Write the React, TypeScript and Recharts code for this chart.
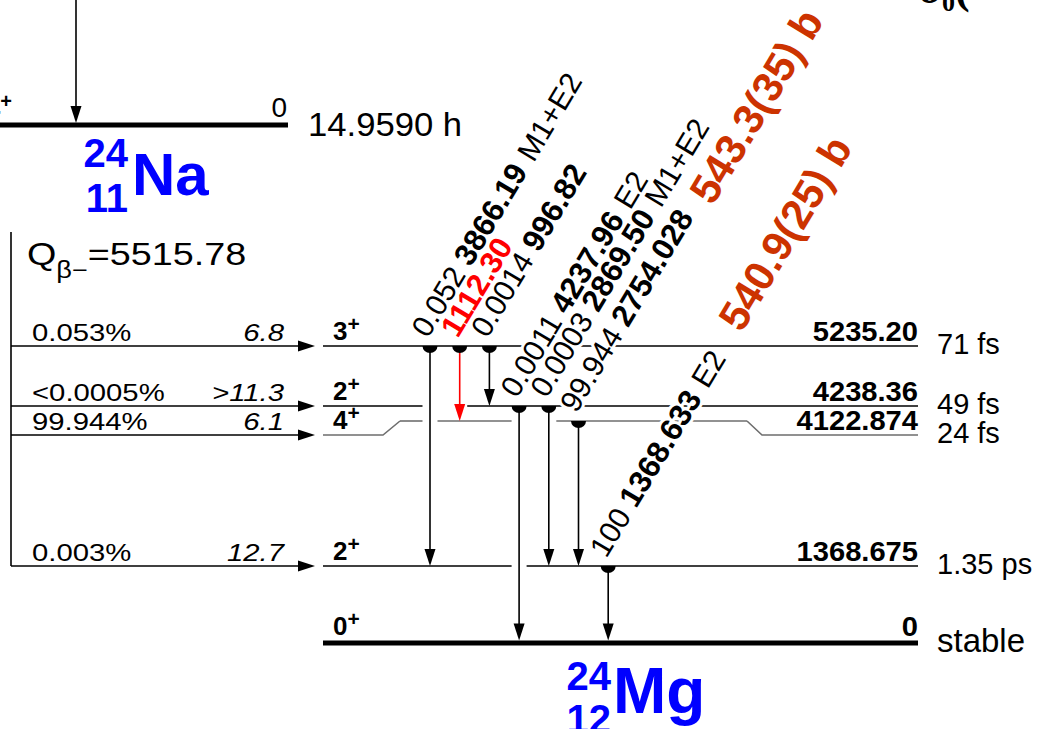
import React from "react";
import { ComposedChart, Line, Scatter, XAxis, YAxis } from "recharts";

const SANS = "'Liberation Sans', Arial, Helvetica, sans-serif";
const SERIF = "'Liberation Serif', 'DejaVu Serif', serif";
const BLUE = "#0000ff";
const RED = "#ff0000";
const RUST = "#cc3300";
const GREY = "#6e6e6e";

// 24Na parent
const parentNuclide = ["24", "11", "Na"];
const parentLevel = ["4", "0", "14.9590 h"]; // spin, energy, half-life
const qValue = "5515.78";

// 24Mg levels, top to bottom
const daughterNuclide = ["24", "12", "Mg"];
const levelEnergies = ["5235.20", "4238.36", "4122.874", "1368.675", "0"];
const levelSpins = ["3", "2", "4", "2", "0"];
const levelHalfLives = ["71 fs", "49 fs", "24 fs", "1.35 ps", "stable"];

// beta branches feeding levels 0..3
const betaIntensities = ["0.053%", "<0.0005%", "99.944%", "0.003%"];
const betaLogFt = ["6.8", ">11.3", "6.1", "12.7"];

// gamma transitions (one lane each, left to right)
const gammaEnergies = ["3866.19", "1112.30", "996.82", "4237.96", "2869.50", "2754.028", "1368.633"];
const gammaIntensities = ["0.052", "", "0.0014", "0.0011", "0.0003", "99.944", "100"];
const gammaMultipolarities = ["M1+E2", "", "", "E2", "M1+E2", "", "E2"];
const gammaFrom = [0, 0, 0, 1, 1, 2, 3];
const gammaTo = [3, 2, 1, 4, 3, 3, 4];
const gammaCrossSections = ["", "", "", "", "", "543.3(35) b", "540.9(25) b"];
const highlightedGamma = 1;

// ---- layout (scheme units) ----
const W = 1037;
const H = 729;
const LEVEL_ROW = [346, 406, 435, 566, 643];
const GROUND = 4;
const RAISED_LEVEL = 2; // 4+ drawn lifted in the middle to clear the 2+ level
const RAISED_ROW = 421;
const RAISED_LEFT = [383, 400];
const RAISED_RIGHT = [747, 762];
const LEVEL_X = [323, 918];
const LANE_X0 = 430;
const LANE_STEP = 29.7;
const GAP_HALF = 7.5;
const PARENT_ROW = 125;
const PARENT_X = [0, 288];
const PARENT_FEED_X = 76;
const FEED_X = [11, 315];
const FEED_TOP = 232;
const LABEL_ANGLE = -59;
const LABEL_OFFSET = [-2, -7];
const LABEL_SIZE = 30;
const XS_GAP = [0, 0, 0, 0, 0, 19, 29];
const XS_SHIFT = [0, 0, 0, 0, 0, 10, 0];

const laneX = (g: number) => LANE_X0 + g * LANE_STEP;
const attachRow = (lvl: number) => (lvl === RAISED_LEVEL ? RAISED_ROW : LEVEL_ROW[lvl]);

type Seg = { pts: { x: number; y: number }[]; color: string; width: number };
type Part = { t: string; size?: number; weight?: string; fill?: string; dx?: number; dy?: number; italic?: boolean };

const segs: Seg[] = [];
const markers: any[] = [];
const labels: any[] = [];

const seg = (x1: number, y1: number, x2: number, y2: number, color = "#000", width = 1.6) =>
  segs.push({ pts: [{ x: x1, y: y1 }, { x: x2, y: y2 }], color, width });

const txt = (x: number, y: number, parts: Part[] | string, opts: any = {}) =>
  labels.push({ x, y, parts: typeof parts === "string" ? [{ t: parts }] : parts, ...opts });

// parent level
seg(PARENT_X[0], PARENT_ROW, PARENT_X[1], PARENT_ROW, "#000", 5);
seg(PARENT_FEED_X, 0, PARENT_FEED_X, PARENT_ROW - 12);
markers.push({ x: PARENT_FEED_X, y: PARENT_ROW - 2, type: "down", color: "#000" });

// beta feeding
seg(FEED_X[0], FEED_TOP, FEED_X[0], LEVEL_ROW[3]);
betaIntensities.forEach((_, i) => {
  seg(FEED_X[0], LEVEL_ROW[i], FEED_X[1] - 10, LEVEL_ROW[i]);
  markers.push({ x: FEED_X[1], y: LEVEL_ROW[i], type: "right", color: "#000" });
});

// daughter levels, broken where a gamma passes through
levelEnergies.forEach((_, lvl) => {
  const row = attachRow(lvl);
  const color = lvl === RAISED_LEVEL ? GREY : "#000";
  const width = lvl === GROUND ? 5 : 1.6;
  const span = lvl === RAISED_LEVEL ? [RAISED_LEFT[1], RAISED_RIGHT[0]] : LEVEL_X;
  const lanes = gammaFrom
    .map((f, g) => (f < lvl && gammaTo[g] > lvl ? g : -1))
    .filter((g) => g >= 0);
  const gaps: number[][] = [];
  lanes.forEach((g) => {
    const last = gaps[gaps.length - 1];
    if (last && g - last[2] === 1) {
      last[1] = laneX(g) + GAP_HALF;
      last[2] = g;
    } else gaps.push([laneX(g) - GAP_HALF, laneX(g) + GAP_HALF, g]);
  });
  let start = span[0];
  gaps.forEach(([a, b]) => {
    seg(start, row, a, row, color, width);
    start = b;
  });
  seg(start, row, span[1], row, color, width);
  if (lvl === RAISED_LEVEL) {
    const low = LEVEL_ROW[lvl];
    segs.push({ pts: [{ x: LEVEL_X[0], y: low }, { x: RAISED_LEFT[0], y: low }, { x: RAISED_LEFT[1], y: row }], color, width });
    segs.push({ pts: [{ x: RAISED_RIGHT[0], y: row }, { x: RAISED_RIGHT[1], y: low }, { x: LEVEL_X[1], y: low }], color, width });
  }
});

// gamma transitions
gammaEnergies.forEach((energy, g) => {
  const x = laneX(g);
  const y1 = attachRow(gammaFrom[g]);
  const y2 = attachRow(gammaTo[g]) - (gammaTo[g] === GROUND ? 2.5 : 0);
  const color = g === highlightedGamma ? RED : "#000";
  seg(x, y1, x, y2 - 10, color, 1.6);
  markers.push({ x, y: y1, type: "half", color: "#000" });
  markers.push({ x, y: y2, type: "down", color });

  const parts: Part[] = [];
  if (gammaIntensities[g]) parts.push({ t: gammaIntensities[g] });
  parts.push({ t: energy, weight: "bold", size: 31, fill: color === RED ? RED : undefined, dx: gammaIntensities[g] ? 8 : 0 });
  if (gammaMultipolarities[g]) parts.push({ t: gammaMultipolarities[g], dx: 10 });
  if (gammaCrossSections[g])
    parts.push({ t: gammaCrossSections[g], weight: "bold", size: 42, fill: RUST, dx: XS_GAP[g], dy: XS_SHIFT[g] });
  txt(x + LABEL_OFFSET[0], y1 + LABEL_OFFSET[1], parts, { angle: LABEL_ANGLE, size: LABEL_SIZE, halo: true });
});

// parent labels
txt(12, PARENT_ROW - 8, [{ t: parentLevel[0] }, { t: "+", size: 20, dy: -9 }], { anchor: "end", size: 26, weight: "bold" });
txt(PARENT_X[1] - 1, PARENT_ROW - 8, parentLevel[1], { anchor: "end", size: 28 });
txt(308, PARENT_ROW + 11, parentLevel[2], { size: 33, sx: 1.05 });
txt(128, 167, parentNuclide[0], { anchor: "end", size: 40, weight: "bold", fill: BLUE });
txt(128, 212, parentNuclide[1], { anchor: "end", size: 40, weight: "bold", fill: BLUE });
txt(132, 195, parentNuclide[2], { size: 60, weight: "bold", fill: BLUE });
txt(27, 265, [{ t: "Q" }, { t: "β−", size: 23, dy: 13 }, { t: "=" + qValue, dy: -13 }], { size: 32, sx: 1.18 });

// beta branch labels
betaIntensities.forEach((b, i) => {
  txt(32, LEVEL_ROW[i] - 5, b, { size: 24, sx: 1.22 });
  txt(284, LEVEL_ROW[i] - 5, betaLogFt[i], { anchor: "end", size: 24, italic: true, sx: 1.22 });
});

// level labels
levelEnergies.forEach((e, lvl) => {
  const row = LEVEL_ROW[lvl];
  const up = lvl === GROUND ? 7 : 5;
  txt(LEVEL_X[0] + 10, row - up - 1, [{ t: levelSpins[lvl] }, { t: "+", size: 21, dy: -9 }], { size: 26, weight: "bold" });
  txt(LEVEL_X[1], row - up, e, { anchor: "end", size: 28, weight: "bold", sx: 1.04 });
  const last = lvl === GROUND;
  txt(937, row + (last ? 9 : 8), levelHalfLives[lvl], { size: last ? 33 : 29 });
});

// daughter nuclide
txt(611, 690, daughterNuclide[0], { anchor: "end", size: 40, weight: "bold", fill: BLUE });
txt(611, 729, [{ t: daughterNuclide[1], dy: 4 }], { anchor: "end", size: 40, weight: "bold", fill: BLUE });
txt(613, 713, daughterNuclide[2], { size: 64, weight: "bold", fill: BLUE });

// caption cut by the top edge
txt(918, 3, [{ t: "σ" }, { t: "0", size: 26, dy: 8 }, { t: "(", dy: -8 }], { size: 44, weight: "bold", family: SERIF });

function MarkerShape(props: any) {
  const { cx, cy, payload } = props;
  const c = payload.color;
  if (payload.type === "half")
    return <path d={`M${cx - 7.5},${cy} A7.5,7 0 0 0 ${cx + 7.5},${cy} Z`} fill={c} />;
  if (payload.type === "right")
    return <path d={`M${cx},${cy} L${cx - 17},${cy - 5.5} L${cx - 17},${cy + 5.5} Z`} fill={c} />;
  return <path d={`M${cx},${cy} L${cx - 5.5},${cy - 17} L${cx + 5.5},${cy - 17} Z`} fill={c} />;
}

function LabelShape(props: any) {
  const { cx, cy, payload: p } = props;
  let transform: string | undefined;
  let x = cx;
  let y = cy;
  if (p.angle) transform = `rotate(${p.angle} ${cx} ${cy})`;
  else if (p.sx) {
    transform = `translate(${cx} ${cy}) scale(${p.sx} 1)`;
    x = 0;
    y = 0;
  }
  return (
    <text
      x={x}
      y={y}
      textAnchor={p.anchor || "start"}
      fontFamily={p.family || SANS}
      fontSize={p.size}
      fontWeight={p.weight || "normal"}
      fontStyle={p.italic ? "italic" : "normal"}
      fill={p.fill || "#000"}
      transform={transform}
      stroke={p.halo ? "#fff" : "none"}
      strokeWidth={p.halo ? 6 : 0}
      strokeLinejoin="round"
      paintOrder="stroke"
    >
      {p.parts.map((s: Part, i: number) => (
        <tspan
          key={i}
          dx={s.dx}
          dy={s.dy}
          fontSize={s.size}
          fontWeight={s.weight}
          fontStyle={s.italic ? "italic" : undefined}
          fill={s.fill}
        >
          {s.t}
        </tspan>
      ))}
    </text>
  );
}

export default function App() {
  return (
    <div style={{ position: "absolute", left: 0, top: 0, width: W, height: H, background: "#fff" }}>
      <ComposedChart width={W} height={H} margin={{ top: 0, right: 0, bottom: 0, left: 0 }}>
        <XAxis type="number" dataKey="x" domain={[0, W]} hide allowDataOverflow />
        <YAxis type="number" dataKey="y" domain={[0, H]} reversed hide allowDataOverflow />
        {segs.map((s, i) => (
          <Line
            key={i}
            data={s.pts}
            dataKey="y"
            stroke={s.color}
            strokeWidth={s.width}
            dot={false}
            activeDot={false}
            legendType="none"
            isAnimationActive={false}
          />
        ))}
        <Scatter data={markers} shape={MarkerShape} isAnimationActive={false} />
        <Scatter data={labels} shape={LabelShape} isAnimationActive={false} />
      </ComposedChart>
    </div>
  );
}
